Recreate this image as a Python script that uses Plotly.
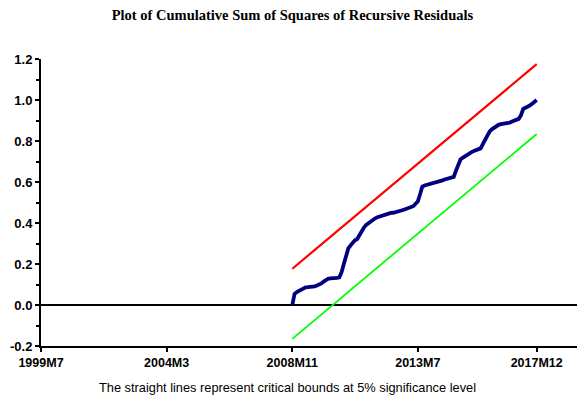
import plotly.graph_objects as go
import pandas as pd

# CUSUMSQ values, monthly from 2008M11 to 2017M12
start_month = "2008-11-01"
cusumsq = [
    0.000, 0.054, 0.063, 0.070, 0.074, 0.081, 0.086, 0.087, 0.087, 0.088,
    0.091, 0.095, 0.099, 0.105, 0.114, 0.123, 0.128, 0.130, 0.130, 0.131,
    0.132, 0.135, 0.160, 0.200, 0.248, 0.276, 0.291, 0.305, 0.316, 0.322,
    0.343, 0.357, 0.378, 0.391, 0.400, 0.408, 0.416, 0.423, 0.428, 0.432,
    0.435, 0.439, 0.443, 0.447, 0.449, 0.450, 0.452, 0.456, 0.459, 0.462,
    0.466, 0.471, 0.475, 0.478, 0.482, 0.494, 0.505, 0.540, 0.578, 0.583,
    0.586, 0.588, 0.590, 0.592, 0.596, 0.600, 0.604, 0.608, 0.612, 0.616,
    0.620, 0.622, 0.625, 0.655, 0.680, 0.710, 0.718, 0.726, 0.735, 0.741,
    0.746, 0.751, 0.756, 0.760, 0.764, 0.785, 0.808, 0.832, 0.846, 0.857,
    0.865, 0.870, 0.879, 0.882, 0.883, 0.884, 0.886, 0.890, 0.895, 0.900,
    0.903, 0.908, 0.925, 0.957, 0.962, 0.967, 0.974, 0.982, 0.990, 1.000,
]

# 5% critical bounds (straight lines, start and end values)
bound_dates = ["2008-11-01", "2017-12-01"]
upper_bound = [0.177, 1.175]
lower_bound = [-0.165, 0.834]

tick_dates = ["1999-07-01", "2004-03-01", "2008-11-01", "2013-07-01", "2017-12-01"]
tick_labels = ["1999M7", "2004M3", "2008M11", "2013M7", "2017M12"]
y_ticks = [-0.2, 0.0, 0.2, 0.4, 0.6, 0.8, 1.0, 1.2]

dates = pd.date_range(start_month, periods=len(cusumsq), freq="MS")

fig = go.Figure()
fig.add_trace(go.Scatter(x=bound_dates, y=upper_bound, mode='lines',
                         line=dict(color='#ff0000', width=2.2)))
fig.add_trace(go.Scatter(x=bound_dates, y=lower_bound, mode='lines',
                         line=dict(color='#00ff00', width=1.8)))
fig.add_trace(go.Scatter(x=dates, y=cusumsq, mode='lines',
                         line=dict(color='#000080', width=3.8)))

fig.update_layout(
    width=578, height=400,
    margin=dict(l=41, r=1, t=59, b=54),
    paper_bgcolor='white', plot_bgcolor='white',
    showlegend=False,
    title=dict(text='<b>Plot of Cumulative Sum of Squares of Recursive Residuals</b>',
               x=0.506, xanchor='center', y=0.9625, yanchor='middle',
               font=dict(family='Liberation Serif', size=14.5, color='black')),
    font=dict(family='Liberation Sans', color='black'),
)

fig.update_xaxes(
    type='date', range=['1999-07-01', '2019-06-01'], automargin=False,
    tickvals=tick_dates, ticktext=['<b>%s</b>' % t for t in tick_labels],
    tickfont=dict(size=12.5), showgrid=False, zeroline=False,
    showline=True, linecolor='black', linewidth=2,
    ticks='outside', ticklen=4, tickwidth=2, tickcolor='black',
)
fig.update_yaxes(
    range=[-0.2, 1.2], automargin=False, tickvals=y_ticks,
    ticktext=['<b>%.1f</b>' % v for v in y_ticks],
    tickfont=dict(size=13), showgrid=False,
    zeroline=True, zerolinecolor='black', zerolinewidth=2,
    showline=True, linecolor='black', linewidth=2,
    ticks='outside', ticklen=4, tickwidth=2, tickcolor='black',
    minor=dict(dtick=0.1, ticks='outside', ticklen=3, tickwidth=2, tickcolor='black'),
)

fig.add_annotation(text='The straight lines represent critical bounds at 5% significance level',
                   xref='paper', yref='paper', x=0.46, y=-0.145, xanchor='center', yanchor='middle',
                   showarrow=False, font=dict(family='Liberation Sans', size=12.8, color='black'))

# drop the browser's default 8px body margin so the figure sits at the page corner
fig.write_html("out.html", config={'displayModeBar': False},
               post_script="document.body.style.margin='0px';")
